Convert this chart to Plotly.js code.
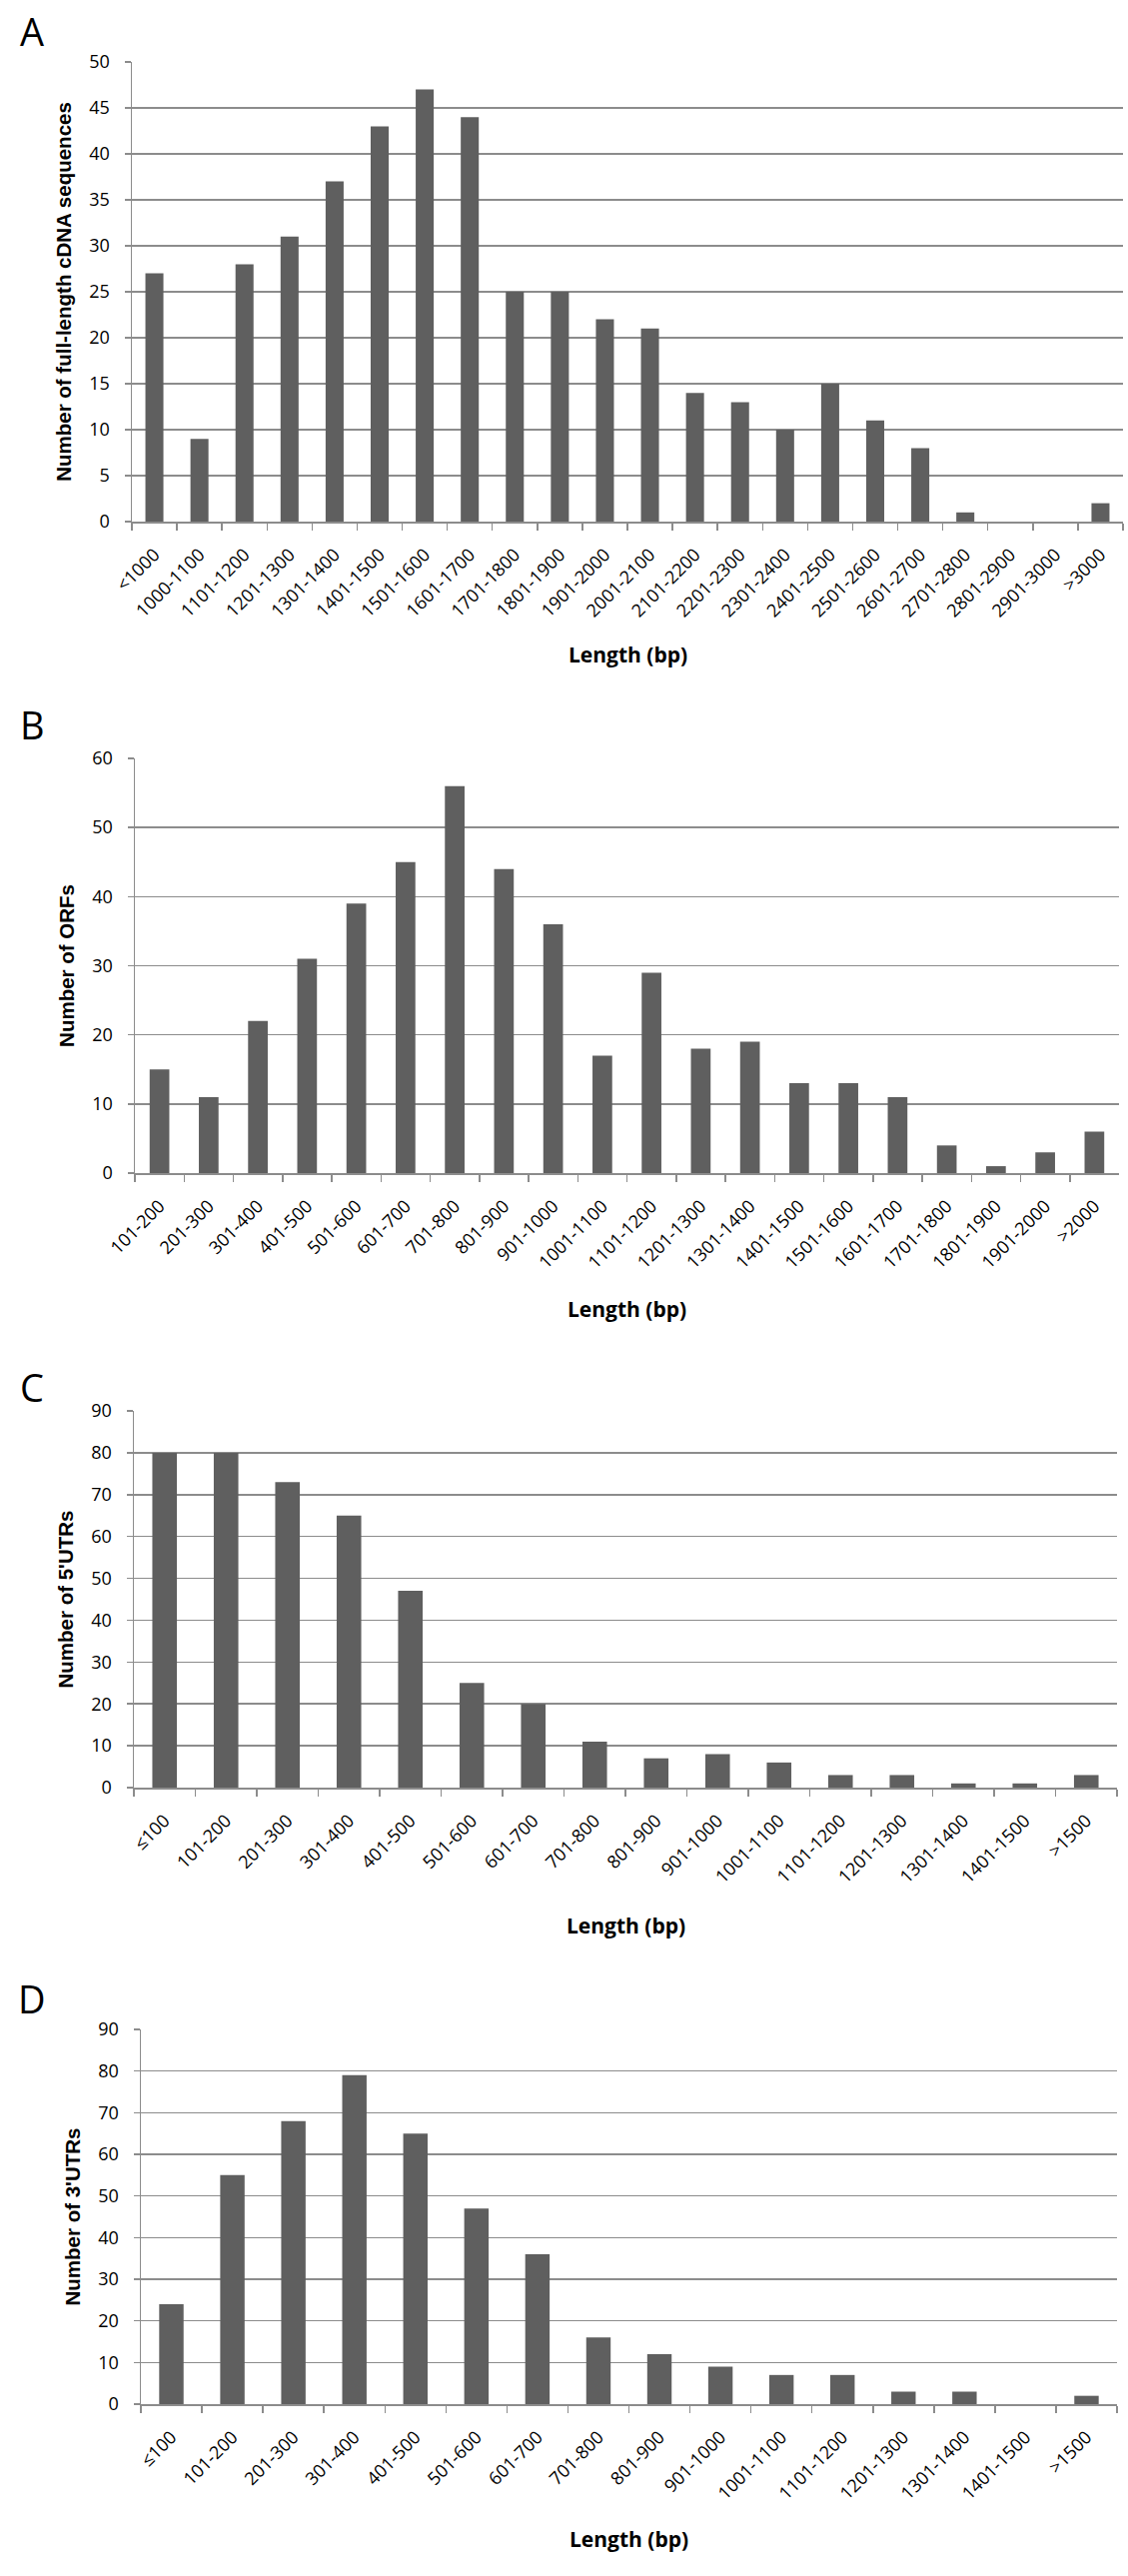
<!DOCTYPE html>
<html>
<head>
<meta charset="utf-8">
<script src="https://cdn.plot.ly/plotly-3.0.1.min.js"></script>
<style>
  body { margin: 0; background: #fff; }
  #chart { width: 1129px; height: 2578px; }
</style>
</head>
<body>
<div id="chart"></div>
<script>
// A: full-length cDNA
var cdnaCats = ['<1000','1000-1100','1101-1200','1201-1300','1301-1400','1401-1500','1501-1600',
  '1601-1700','1701-1800','1801-1900','1901-2000','2001-2100','2101-2200','2201-2300',
  '2301-2400','2401-2500','2501-2600','2601-2700','2701-2800','2801-2900','2901-3000','>3000'];
var cdnaCounts = [27, 9, 28, 31, 37, 43, 47, 44, 25, 25, 22, 21, 14, 13, 10, 15, 11, 8, 1, 0, 0, 2];

// B: ORFs
var orfCats = ['101-200','201-300','301-400','401-500','501-600','601-700','701-800','801-900',
  '901-1000','1001-1100','1101-1200','1201-1300','1301-1400','1401-1500','1501-1600',
  '1601-1700','1701-1800','1801-1900','1901-2000','>2000'];
var orfCounts = [15, 11, 22, 31, 39, 45, 56, 44, 36, 17, 29, 18, 19, 13, 13, 11, 4, 1, 3, 6];

// C and D: UTRs
var utrCats = ['≤100','101-200','201-300','301-400','401-500','501-600','601-700','701-800',
  '801-900','901-1000','1001-1100','1101-1200','1201-1300','1301-1400','1401-1500','>1500'];
var utr5Counts = [80, 80, 73, 65, 47, 25, 20, 11, 7, 8, 6, 3, 3, 1, 1, 3];
var utr3Counts = [24, 55, 68, 79, 65, 47, 36, 16, 12, 9, 7, 7, 3, 3, 0, 2];

var W = 1129, H = 2578;
var barColor = '#5f5f5f';
var gridCol = '#8c8c8c';
var tickFont = {family: 'Open Sans, sans-serif', size: 18, color: '#000'};

// panel boxes in page pixels: left, right, top, bottom
var boxes = [
  {l: 132, r: 1124, t: 62,   b: 522,  ymax: 50, dtick: 5,  letter: 'A', ly: 31,   ty: 655,
   ytitle: 'Number of full-length cDNA sequences'},
  {l: 135, r: 1120, t: 759,  b: 1174, ymax: 60, dtick: 10, letter: 'B', ly: 725,  ty: 1310,
   ytitle: 'Number of ORFs'},
  {l: 134, r: 1118, t: 1412, b: 1789, ymax: 90, dtick: 10, letter: 'C', ly: 1388, ty: 1927,
   ytitle: "Number of 5'UTRs"},
  {l: 141, r: 1118, t: 2031, b: 2406, ymax: 90, dtick: 10, letter: 'D', ly: 2000, ty: 2541,
   ytitle: "Number of 3'UTRs"}
];
var cats = [cdnaCats, orfCats, utrCats, utrCats];
var vals = [cdnaCounts, orfCounts, utr5Counts, utr3Counts];

var data = [];
var layout = {
  width: W, height: H,
  margin: {l: 0, r: 0, t: 0, b: 0},
  paper_bgcolor: '#fff', plot_bgcolor: '#fff',
  showlegend: false,
  bargap: 0.6,
  annotations: []
};

for (var i = 0; i < 4; i++) {
  var bx = boxes[i];
  var n = i + 1;
  var sfx = (n == 1 ? '' : n);
  data.push({
    type: 'bar',
    x: cats[i],
    y: vals[i],
    xaxis: 'x' + sfx,
    yaxis: 'y' + sfx,
    marker: {color: barColor},
    hoverinfo: 'x+y'
  });
  layout['xaxis' + sfx] = {
    domain: [bx.l / W, bx.r / W],
    anchor: 'y' + sfx,
    type: 'category',
    tickangle: -45,
    tickfont: tickFont,
    tickson: 'boundaries',
    ticks: 'outside',
    ticklen: 7,
    tickcolor: gridCol,
    tickwidth: 1.5,
    ticklabelstandoff: 14,
    showline: true,
    linecolor: gridCol,
    linewidth: 1.5,
    showgrid: false,
    fixedrange: true
  };
  layout['yaxis' + sfx] = {
    domain: [1 - bx.b / H, 1 - bx.t / H],
    anchor: 'x' + sfx,
    range: [0, bx.ymax],
    dtick: bx.dtick,
    tickfont: tickFont,
    ticks: 'outside',
    ticklen: 6,
    tickcolor: gridCol,
    tickwidth: 1.5,
    ticklabelstandoff: 11,
    showline: true,
    linecolor: gridCol,
    linewidth: 1.5,
    showgrid: true,
    gridcolor: gridCol,
    gridwidth: 1.5,
    zeroline: false,
    fixedrange: true,
    title: {
      text: bx.ytitle,
      font: {family: 'Liberation Sans, Arial, sans-serif', size: 20.5, color: '#000', weight: 'bold'},
      standoff: 12
    }
  };
  layout.annotations.push({
    text: bx.letter, xref: 'paper', yref: 'paper',
    x: 32 / W, y: 1 - bx.ly / H, xanchor: 'center', yanchor: 'middle',
    showarrow: false, font: {family: 'Open Sans, sans-serif', size: 38, color: '#000'}
  });
  layout.annotations.push({
    text: '<b>Length (bp)</b>', xref: 'paper', yref: 'paper',
    x: (bx.l + bx.r) / 2 / W, y: 1 - bx.ty / H, xanchor: 'center', yanchor: 'middle',
    showarrow: false, font: {family: 'Open Sans, sans-serif', size: 21, color: '#000'}
  });
}

Plotly.newPlot('chart', data, layout, {displayModeBar: false, staticPlot: true});
</script>
</body>
</html>
